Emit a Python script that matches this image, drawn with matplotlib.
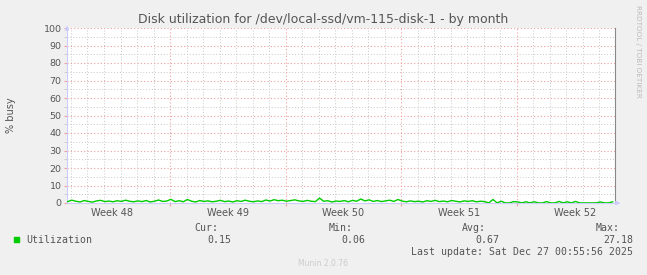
import numpy as np
import matplotlib.pyplot as plt
from matplotlib.ticker import MultipleLocator, FixedLocator, NullFormatter

# --- Dados (dias relativos ao inicio da semana 49) ---
t_start = -6.2
t_step = 0.25
x_min, x_max = -6.24, 26.94

busy = [
    0.8, 1.6, 1.0, 0.6, 1.4, 0.9, 0.5, 1.2, 1.5, 0.8, 1.1, 0.7,
    1.3, 0.9, 1.6, 1.0, 0.7, 1.2, 0.8, 1.4, 0.6, 1.0, 1.7, 0.9,
    1.1, 2.1, 0.8, 1.3, 0.7, 2.0, 1.0, 0.6, 1.4, 0.9, 1.2, 0.7,
    1.0, 1.5, 0.8, 1.1, 0.6, 1.3, 0.9, 1.6, 1.0, 0.7, 1.2, 0.8,
    1.7, 1.1, 1.9, 1.3, 1.6, 1.0, 1.4, 1.8, 1.2, 0.9, 1.5, 1.0,
    0.8, 2.8, 1.0, 1.3, 0.6, 1.1, 0.9, 1.4, 0.7, 1.5, 1.0, 2.3,
    1.2, 1.8, 0.9, 1.4, 0.8, 1.2, 1.6, 0.9, 2.0, 1.1, 0.7, 1.2,
    0.8, 1.0, 0.6, 1.3, 0.9, 1.5, 0.8, 1.1, 0.7, 1.4, 1.0, 0.6,
    1.2, 0.9, 1.3, 0.7, 1.0, 0.8,
    0.06, 2.0, 0.06, 1.0, 0.06, 0.06, 0.8, 0.6, 0.06, 0.7, 0.06, 0.7,
    0.06, 0.06, 0.8, 0.06, 0.06, 0.9, 0.06, 0.7, 0.06, 0.9, 0.06, 0.06,
    0.06, 0.06, 0.06, 0.6, 0.06, 0.06, 0.7,
]

week_bounds = [0, 7, 14, 21]
week_centers = [-3.5, 3.5, 10.5, 17.5, 24.5]
week_labels = ["Week 48", "Week 49", "Week 50", "Week 51", "Week 52"]

stats_names = ["Cur:", "Min:", "Avg:", "Max:"]
stats_vals = ["0.15", "0.06", "0.67", "27.18"]

# --- Figura ---
bg = "#F0F0F0"
txt = "#555555"
fig = plt.figure(figsize=(6.47, 2.75), dpi=100, facecolor=bg)
ax = fig.add_axes([67 / 647, 1 - 203 / 275, (615 - 67) / 647, (203 - 28) / 275])
ax.set_facecolor("white")

t = t_start + t_step * np.arange(len(busy))
ax.plot(t, busy, color="#00CC00", lw=1.0, zorder=3)

ax.set_xlim(x_min, x_max)
ax.set_ylim(0, 100)

# grade
ax.xaxis.set_major_locator(FixedLocator(week_bounds))
ax.xaxis.set_minor_locator(FixedLocator(week_centers))
ax.set_xticklabels([])
ax.xaxis.set_minor_formatter(NullFormatter())
for d in np.arange(-6, 27):
    if d not in week_bounds:
        ax.axvline(d, color="#C8C8C8", lw=0.7, ls=(0, (1, 2)), zorder=1)
for d in week_bounds:
    ax.axvline(d, color="#F0A0A0", lw=0.8, ls=(0, (1, 2)), zorder=2)
for y in range(5, 100, 10):
    ax.axhline(y, color="#C8C8C8", lw=0.7, ls=(0, (1, 2)), zorder=1)
for y in range(10, 101, 10):
    ax.axhline(y, color="#F0A0A0", lw=0.8, ls=(0, (1, 2)), zorder=2)

ax.yaxis.set_major_locator(MultipleLocator(10))
ax.yaxis.set_minor_locator(MultipleLocator(5))
ax.tick_params(axis="y", which="major", length=2, color="#F0A0A0", labelsize=6.8,
               labelcolor=txt, pad=2)
ax.tick_params(axis="y", which="minor", length=2, color="#C8C8C8")
ax.tick_params(axis="x", which="major", length=2, color="#F0A0A0", labelbottom=False)
ax.tick_params(axis="x", which="minor", length=0, labelbottom=False)
for c, lab in zip(week_centers, week_labels):
    ax.text(c, -2.6, lab, ha="center", va="top", fontsize=7, color=txt,
            transform=ax.transData)

ax.spines["top"].set_visible(False)
ax.spines["left"].set_color("#CCCCFF")
ax.spines["bottom"].set_color("#CCCCFF")
ax.spines["right"].set_color("#888888")

# setas dos eixos
ax.annotate("", xy=(0, 1.03), xytext=(0, 0.97), xycoords="axes fraction",
            arrowprops=dict(arrowstyle="-|>", color="#CCCCFF", lw=0.8, mutation_scale=6))
ax.annotate("", xy=(1.015, 0), xytext=(0.995, 0), xycoords="axes fraction",
            arrowprops=dict(arrowstyle="-|>", color="#CCCCFF", lw=0.8, mutation_scale=6))

# textos
fig.text(0.5, 1 - 19 / 275, "Disk utilization for /dev/local-ssd/vm-115-disk-1 - by month",
         ha="center", va="center", fontsize=9, color=txt)
fig.text(11 / 647, 1 - 115 / 275, "% busy", rotation=90, ha="center", va="center",
         fontsize=7, color=txt)
fig.text(638 / 647, 1 - 5 / 275, "RRDTOOL / TOBI OETIKER", rotation=270, ha="center",
         va="top", fontsize=5.2, color="#BBBBBB")

# legenda
mono = "DejaVu Sans Mono"
fs = 7.1
fig.patches.append(plt.Rectangle((14 / 647, 1 - 242 / 275), 5 / 647, 5 / 275,
                                 transform=fig.transFigure, color="#00CC00"))
fig.text(26 / 647, 1 - 240 / 275, "Utilization", family=mono, fontsize=fs, color=txt,
         va="center", ha="left")
name_right = [218, 353, 486, 620]
val_right = [231, 365, 499, 633]
for nm, v, nr, vr in zip(stats_names, stats_vals, name_right, val_right):
    fig.text(nr / 647, 1 - 228 / 275, nm, family=mono, fontsize=fs, color=txt,
             ha="right", va="center")
    fig.text(vr / 647, 1 - 240 / 275, v, family=mono, fontsize=fs, color=txt,
             ha="right", va="center")
fig.text(633 / 647, 1 - 252 / 275, "Last update: Sat Dec 27 00:55:56 2025", family=mono,
         fontsize=fs, color=txt, ha="right", va="center")
fig.text(0.5, 1 - 264 / 275, "Munin 2.0.76", ha="center", va="center", fontsize=5.5,
         color="#CCCCCC")

fig.savefig("out.png", dpi=100, facecolor=bg)
